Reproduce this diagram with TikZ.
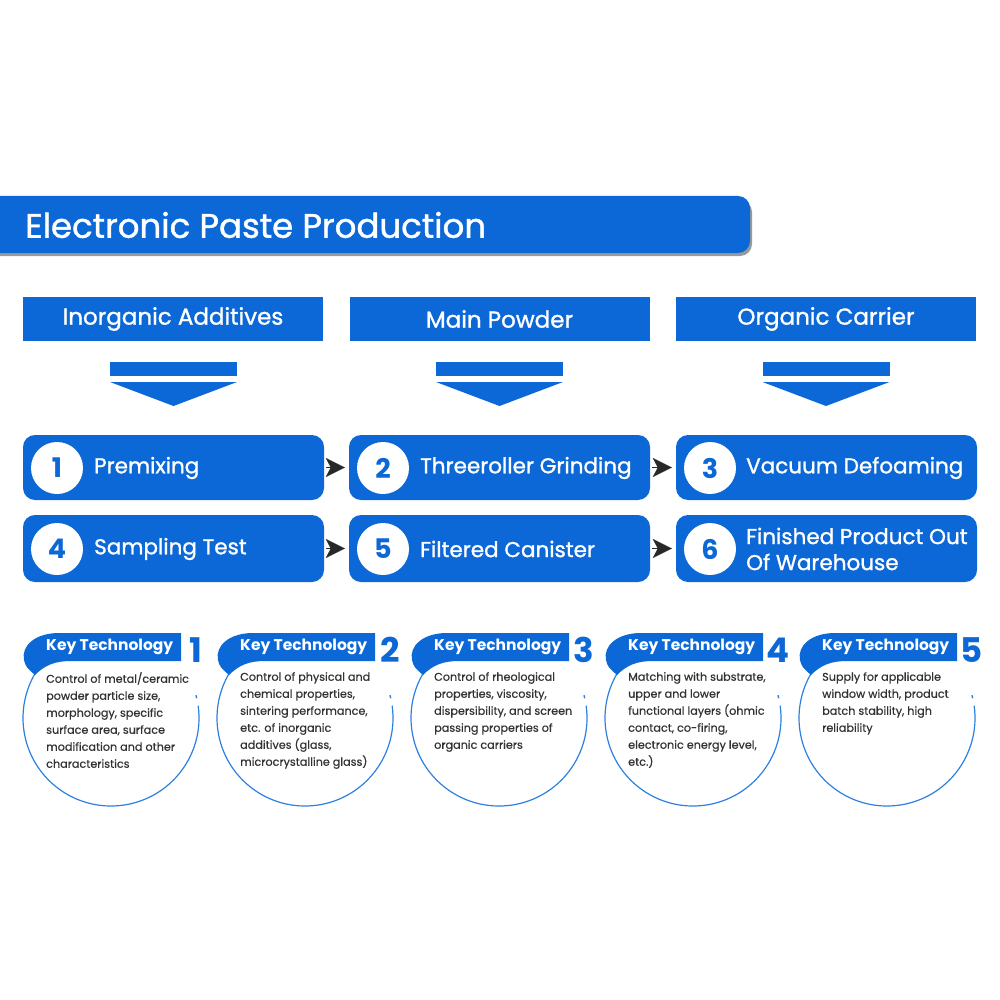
\documentclass[tikz,border=0pt]{standalone}
\usepackage{fontspec}
\setmainfont{Poppins}
\newfontfamily\pmed{Poppins}[FakeBold=1.2]
\newfontfamily\plight{Poppins}[FakeBold=0.5]
\usetikzlibrary{arrows.meta}
\definecolor{pblue}{RGB}{12,104,214}
\definecolor{cblue}{RGB}{45,128,226}
\definecolor{tgray}{RGB}{50,50,50}
\definecolor{dgray}{RGB}{40,40,40}
\begin{document}
\begin{tikzpicture}[x=1pt,y=-1pt,
  hdr/.style={fill=pblue,text=white,minimum width=300pt,minimum height=44pt,inner sep=0pt,font=\pmed\fontsize{23}{26}\selectfont},
  stepbox/.style={fill=pblue,rounded corners=12pt,minimum width=301pt,inner sep=0pt},
  numc/.style={circle,fill=white,minimum size=52pt,inner sep=0pt,text=pblue,font=\bfseries\fontsize{27}{28}\selectfont},
  steptext/.style={anchor=west,text=white,inner sep=0pt,align=left,font=\pmed\fontsize{21.5}{26}\selectfont},
  chev/.style={dgray,line width=0.1pt,-{Stealth[length=19pt,width=19pt,inset=5pt]},shorten <=2pt,shorten >=4pt},
  keytab/.style={text=white,inner sep=0pt,anchor=west,font=\bfseries\fontsize{15.5}{18}\selectfont},
  keynum/.style={text=pblue,inner sep=0pt,font=\bfseries\fontsize{34}{36}\selectfont},
  body/.style={text=tgray,inner sep=0pt,anchor=north west,align=left,font=\plight\fontsize{11.2}{17}\selectfont}
]
\useasboundingbox (0,0) rectangle (1000,1000);
\fill[white] (0,0) rectangle (1000,1000);
% title bar
\begin{scope}
\clip (0,0) rectangle (1000,1000);
\fill[black!40,rounded corners=12pt] (-20,200) rectangle (752,256);
\fill[pblue,rounded corners=12pt] (-20,196) rectangle (750,253);
\end{scope}
\node[anchor=west,text=white,inner sep=0pt,font=\pmed\fontsize{34}{38}\selectfont] (title) at (25,225) {Electronic Paste Production};
% headers
\node[hdr] (h1) at (173,319) {Inorganic Additives};
\node[hdr] (h2) at (499.5,319) {Main Powder};
\node[hdr] (h3) at (826,319) {Organic Carrier};
% down arrows
\foreach \c in {173.5,499.5,826}{
  \fill[pblue] (\c-63.5,362) rectangle (\c+63.5,376);
  \fill[pblue] (\c-63.5,382) -- (\c+63.5,382) -- (\c,406) -- cycle;
}
% step boxes
\node[stepbox,minimum height=65pt] (s1) at (173.5,467.5) {};
\node[stepbox,minimum height=65pt] (s2) at (499.5,467.5) {};
\node[stepbox,minimum height=65pt] (s3) at (826.5,467.5) {};
\node[stepbox,minimum height=67pt] (s4) at (173.5,548.5) {};
\node[stepbox,minimum height=67pt] (s5) at (499.5,548.5) {};
\node[stepbox,minimum height=67pt] (s6) at (826.5,548.5) {};
\node[numc] (n1) at (57,468) {1};
\node[numc] (n2) at (383,468) {2};
\node[numc] (n3) at (710,468) {3};
\node[numc] (n4) at (57,549) {4};
\node[numc] (n5) at (383,549) {5};
\node[numc] (n6) at (710,549) {6};
\node[steptext] (t1) at (94,468) {Premixing};
\node[steptext] (t2) at (420,468) {Threeroller Grinding};
\node[steptext] (t3) at (746,468) {Vacuum Defoaming};
\node[steptext] (t4) at (94,549) {Sampling Test};
\node[steptext] (t5) at (420,549) {Filtered Canister};
\node[steptext] (t6) at (746,549) {Finished Product Out\\Of Warehouse};
\draw[chev] (s1.east) -- (s2.west);
\draw[chev] (s2.east) -- (s3.west);
\draw[chev] (s4.east) -- (s5.west);
\draw[chev] (s5.east) -- (s6.west);
% key technology
\foreach \i/\txt in {1/{Control of metal/ceramic\\powder particle size,\\morphology, specific\\surface area, surface\\modification and other\\characteristics},
  2/{Control of physical and\\chemical properties,\\sintering performance,\\etc. of inorganic\\additives (glass,\\microcrystalline glass)},
  3/{Control of rheological\\properties, viscosity,\\dispersibility, and screen\\passing properties of\\organic carriers},
  4/{Matching with substrate,\\upper and lower\\functional layers (ohmic\\contact, co-firing,\\electronic energy level,\\etc.)},
  5/{Supply for applicable\\window width, product\\batch stability, high\\reliability}}{
  \pgfmathsetmacro{\cx}{111+194*(\i-1)}
  \draw[cblue,line width=1.2pt] (\cx,718) ++(-8:88) arc[start angle=-8,end angle=211.5,radius=88];
  \draw[cblue,line width=1.4pt] (\cx,718) ++(-15:88) arc[start angle=-15,end angle=-13,radius=88];
  \fill[pblue] (\cx+70,633) -- (\cx-52,633) .. controls (\cx-76,633) and (\cx-90,646) .. (\cx-87,660)
     .. controls (\cx-85,667) .. (\cx-76,675) .. controls (\cx-66,665) and (\cx-56,661) .. (\cx-40,661) -- (\cx+70,661) -- cycle;
  \node[keytab] (k\i) at (\cx-65,647) {Key Technology};
  \node[keynum] (kn\i) at (\cx+85,650) {\i};
  \node[body] (b\i) at (\cx-65,672) {\txt};
}
\end{tikzpicture}
\end{document}
